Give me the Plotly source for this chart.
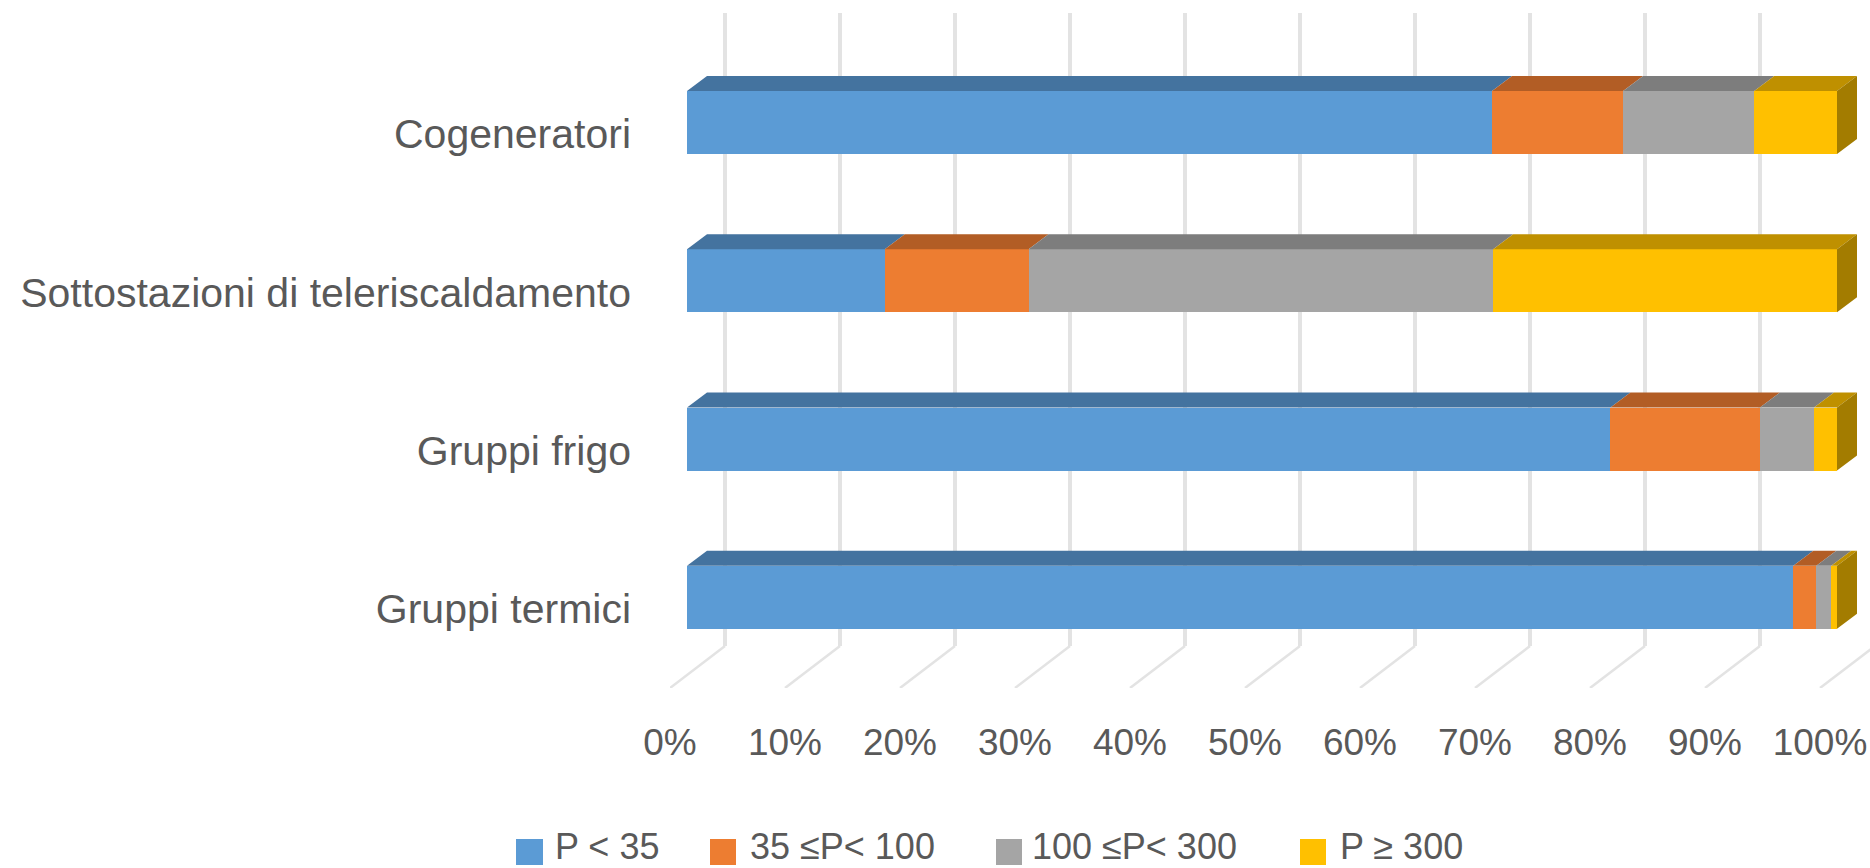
import plotly.graph_objects as go

# ---- data (bottom to top) ----
categories = ["Gruppi termici", "Gruppi frigo", "Sottostazioni di teleriscaldamento", "Cogeneratori"]
series_names = ["P < 35", "35 ≤P< 100", "100 ≤P< 300", "P ≥ 300"]
p_lt_35 = [96.2, 80.3, 17.2, 70.0]
p_35_100 = [2.0, 13.0, 12.5, 11.4]
p_100_300 = [1.3, 4.7, 40.4, 11.4]
p_ge_300 = [0.5, 2.0, 29.9, 7.2]
x_ticks = [0, 10, 20, 30, 40, 50, 60, 70, 80, 90, 100]
x_tick_labels = ["0%", "10%", "20%", "30%", "40%", "50%", "60%", "70%", "80%", "90%", "100%"]

series_values = [p_lt_35, p_35_100, p_100_300, p_ge_300]
front_colors = ["#5B9BD5", "#ED7D31", "#A5A5A5", "#FFC000"]
top_colors = ["#44739F", "#B25D25", "#7D7D7D", "#BF9000"]
side_color = "#A37C00"
TEXT = "#595959"
GRID = "#E3E3E3"
FONT = "Liberation Sans"

# ---- geometry ----
W, H = 1870, 868
L, T, B = 670, 13, 688          # plot area in pixels
PX_X = 11.5                     # pixels per percent
PX_Y = 158.3                    # pixels per category step
x_range = [0, (W - L) / PX_X]
y_range = [-0.5, -0.5 + (B - T) / PX_Y]


def dx(px):
    return px / PX_X


def dy(px):
    return px / PX_Y


def paper_x(px):
    return (px - L) / (W - L)


def paper_y(py):
    return (B - py) / (B - T)


BAR_H = dy(63)
BAR_DX, BAR_DY = dx(17), dy(11.5)    # front of bar relative to the floor's front edge
DEPTH_X, DEPTH_Y = dx(20), dy(15)    # depth of a bar
WALL_X, WALL_Y = dx(55), dy(42)      # depth of the floor

fig = go.Figure()

# front faces
for s, name in enumerate(series_names):
    bases, ys = [], []
    for i in range(len(categories)):
        bases.append(sum(series_values[k][i] for k in range(s)) + BAR_DX)
        ys.append(i + BAR_DY)
    fig.add_trace(go.Bar(
        orientation="h", name=name, x=series_values[s], y=ys, base=bases, width=BAR_H,
        marker=dict(color=front_colors[s], line=dict(width=0)), showlegend=False,
    ))

# top faces
for s, name in enumerate(series_names):
    xs, ys = [], []
    for i in range(len(categories)):
        x0 = sum(series_values[k][i] for k in range(s)) + BAR_DX
        x1 = x0 + series_values[s][i]
        y0 = i + BAR_DY + BAR_H / 2
        xs += [x0, x1, x1 + DEPTH_X, x0 + DEPTH_X, x0, None]
        ys += [y0, y0, y0 + DEPTH_Y, y0 + DEPTH_Y, y0, None]
    fig.add_trace(go.Scatter(
        x=xs, y=ys, mode="lines", fill="toself", fillcolor=top_colors[s],
        line=dict(width=0, color=top_colors[s]), hoverinfo="skip", showlegend=False,
    ))

# side face at the end of each stack
xs, ys = [], []
for i in range(len(categories)):
    x1 = sum(series_values[k][i] for k in range(4)) + BAR_DX
    y0 = i + BAR_DY - BAR_H / 2
    y1 = i + BAR_DY + BAR_H / 2
    xs += [x1, x1 + DEPTH_X, x1 + DEPTH_X, x1, x1, None]
    ys += [y0, y0 + DEPTH_Y, y1 + DEPTH_Y, y1, y0, None]
fig.add_trace(go.Scatter(
    x=xs, y=ys, mode="lines", fill="toself", fillcolor=side_color,
    line=dict(width=0, color=side_color), hoverinfo="skip", showlegend=False,
))

# gridlines: floor diagonal + back wall, below the bars
shapes = []
for t in x_ticks:
    shapes.append(dict(type="line", layer="below", xref="x", yref="y",
                       x0=t, y0=y_range[0], x1=t + WALL_X, y1=y_range[0] + WALL_Y,
                       line=dict(color=GRID, width=2.5)))
    shapes.append(dict(type="line", layer="below", xref="x", yref="y",
                       x0=t + WALL_X, y0=y_range[0] + WALL_Y, x1=t + WALL_X, y1=y_range[1],
                       line=dict(color=GRID, width=4)))

# legend
legend_boxes = [(516, 543), (710, 736), (996, 1022), (1300, 1326)]
legend_text_x = [553, 748, 1030, 1338]
annotations = []
for s, name in enumerate(series_names):
    shapes.append(dict(type="rect", xref="paper", yref="paper",
                       x0=paper_x(legend_boxes[s][0]), x1=paper_x(legend_boxes[s][1]),
                       y0=paper_y(865), y1=paper_y(839),
                       fillcolor=front_colors[s], line=dict(width=0)))
    annotations.append(dict(xref="paper", yref="paper", x=paper_x(legend_text_x[s]), y=paper_y(846.5),
                            xanchor="left", yanchor="middle", text=name, showarrow=False,
                            font=dict(family=FONT, size=36, color=TEXT)))

fig.update_layout(
    width=W, height=H, margin=dict(l=L, r=0, t=T, b=H - B, pad=0),
    paper_bgcolor="white", plot_bgcolor="white", bargap=0, barmode="overlay",
    shapes=shapes, annotations=annotations, showlegend=False,
    xaxis=dict(range=x_range, tickmode="array", tickvals=x_ticks, ticktext=x_tick_labels,
               showgrid=False, zeroline=False, showline=False, ticks="", ticklabelstandoff=29,
               tickfont=dict(family=FONT, size=37, color=TEXT), fixedrange=True),
    yaxis=dict(range=y_range, tickmode="array", tickvals=list(range(len(categories))), ticktext=categories,
               showgrid=False, zeroline=False, showline=False, ticks="", ticklabelstandoff=38,
               tickfont=dict(family=FONT, size=41, color=TEXT), fixedrange=True),
)

fig.write_html("out.html", config={"displayModeBar": False},
               post_script="document.body.style.margin='0';")
